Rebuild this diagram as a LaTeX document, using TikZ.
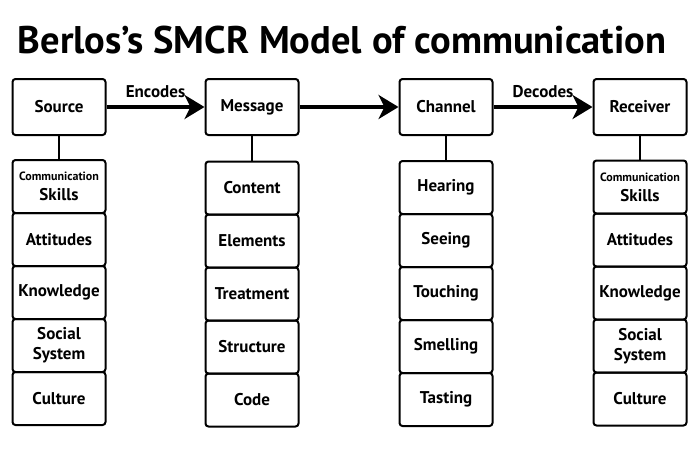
\documentclass[tikz,border=0pt]{standalone}
\usepackage{fontspec}
\setmainfont{PT Sans}
\usetikzlibrary{arrows.meta,positioning}
\newcommand{\smalltxt}{\fontsize{12}{12}\selectfont}
\tikzset{
  topbox/.style={draw,line width=2pt,rounded corners=3pt,minimum width=93pt,minimum height=56pt,inner sep=0pt,font=\fontsize{17}{17}\selectfont\bfseries},
  subbox/.style={draw,line width=2pt,rounded corners=3pt,minimum width=93pt,minimum height=53pt,inner sep=0pt,align=center,font=\fontsize{17}{20}\selectfont\bfseries},
  flow/.style={line width=4pt,-{Stealth[length=20pt,width=24pt,inset=6pt]}},
  flowlabel/.style={above=4pt,font=\fontsize{17}{17}\selectfont\bfseries}
}
\begin{document}
\begin{tikzpicture}[x=1pt,y=-1pt,line join=round]
\useasboundingbox (0,0) rectangle (700,450);
\node[font=\fontsize{38.5}{40}\selectfont\bfseries] (title) at (342,40) {Berlos’s SMCR Model of communication};
% top row
\node[topbox] (S) at (59,107) {Source};
\node[topbox] (M) at (252,107) {Message};
\node[topbox] (C) at (446,107) {Channel};
\node[topbox] (R) at (640,107) {Receiver};
\draw[flow] (S) -- node[flowlabel]{Encodes} (M);
\draw[flow] (M) -- (C);
\draw[flow] (C) -- node[flowlabel]{Decodes} (R);
% stacks
\foreach \t [count=\i] in {{\smalltxt Communication\\Skills},Attitudes,Knowledge,{Social\\System},Culture}
  \node[subbox] (S\i) at (59,{133.5+53*\i}) {\t};
\foreach \t [count=\i] in {Content,Elements,Treatment,Structure,Code}
  \node[subbox] (M\i) at (252,{135+53*\i}) {\t};
\foreach \t [count=\i] in {Hearing,Seeing,Touching,Smelling,Tasting}
  \node[subbox] (C\i) at (446,{134.5+53*\i}) {\t};
\foreach \t [count=\i] in {{\smalltxt Communication\\Skills},Attitudes,Knowledge,{Social\\System},Culture}
  \node[subbox] (R\i) at (640,{134+53*\i}) {\t};
\foreach \col in {S,M,C,R}
  \draw[line width=1.5pt] (\col) -- (\col1);
\end{tikzpicture}
\end{document}
